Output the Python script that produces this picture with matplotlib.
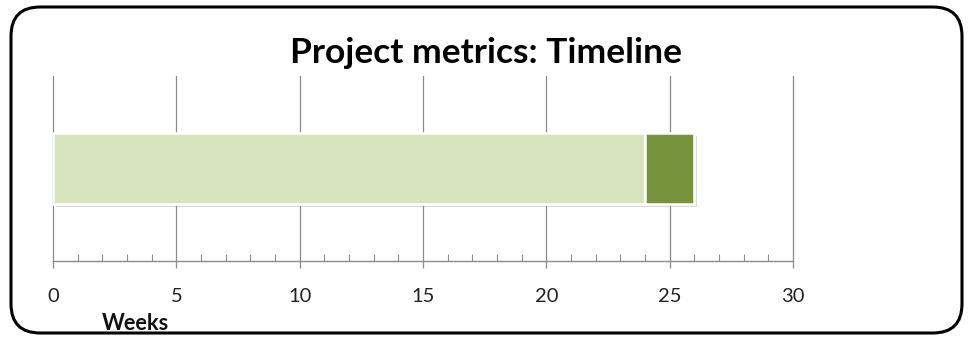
import matplotlib.pyplot as plt
import matplotlib.patheffects as pe
from matplotlib.patches import FancyBboxPatch
from matplotlib.ticker import MultipleLocator

# timeline segments (weeks)
segments = ["Planned", "Overrun"]
starts = [0, 24]
durations = [24, 2]
colors = ["#D7E4BD", "#77933C"]

x_ticks = [0, 5, 10, 15, 20, 25, 30]

plt.rcParams["font.family"] = ["Lato", "DejaVu Sans"]

W, H = 973, 343
fig = plt.figure(figsize=(W / 100, H / 100), dpi=100)
fig.patch.set_facecolor("white")

# rounded frame around the whole chart
frame = FancyBboxPatch((11 / W, 10 / H), 951 / W, 326 / H,
                       boxstyle="round,pad=0,rounding_size=0.03",
                       transform=fig.transFigure, facecolor="none",
                       edgecolor="black", linewidth=2.2, mutation_aspect=W / H,
                       zorder=5)
fig.patches.append(frame)

ax = fig.add_axes([53 / W, 82.5 / H, 740 / W, 184.5 / H])
ax.set_facecolor("none")

for start, dur, col in zip(starts, durations, colors):
    ax.barh(0.5, dur, left=start, height=0.385, color=col, edgecolor="white",
            linewidth=1.8, zorder=3,
            path_effects=[pe.SimplePatchShadow(offset=(2, -2), shadow_rgbFace="#999999", alpha=0.35),
                          pe.Normal()])

ax.set_xlim(0, 30)
ax.set_ylim(0, 1)
ax.set_xticks(x_ticks)
ax.xaxis.set_minor_locator(MultipleLocator(1))
ax.set_yticks([])

ax.grid(axis="x", color="#8c8c8c", linewidth=0.9, zorder=0)
# keep the edge gridlines (0 and 30) at full width
for gl in ax.get_xgridlines():
    gl.set_clip_on(False)
for side in ["top", "right", "left"]:
    ax.spines[side].set_visible(False)
ax.spines["bottom"].set_color("#8c8c8c")
ax.spines["bottom"].set_linewidth(1.0)

ax.tick_params(axis="x", which="major", direction="out", length=5, width=0.9,
               color="#8c8c8c", labelsize=14.5, labelcolor="#222222", pad=15)
ax.tick_params(axis="x", which="minor", direction="in", length=5, width=0.8,
               color="#8c8c8c")

fig.text(486 / W, 1 - 63 / H, "Project metrics: Timeline", ha="center", va="baseline",
         fontsize=25.5, fontweight="bold", color="black")
fig.text(102 / W, 1 - 330 / H, "Weeks", ha="left", va="baseline",
         fontsize=15.7, fontweight="bold", color="#111111")

fig.savefig("out.png", dpi=100)
